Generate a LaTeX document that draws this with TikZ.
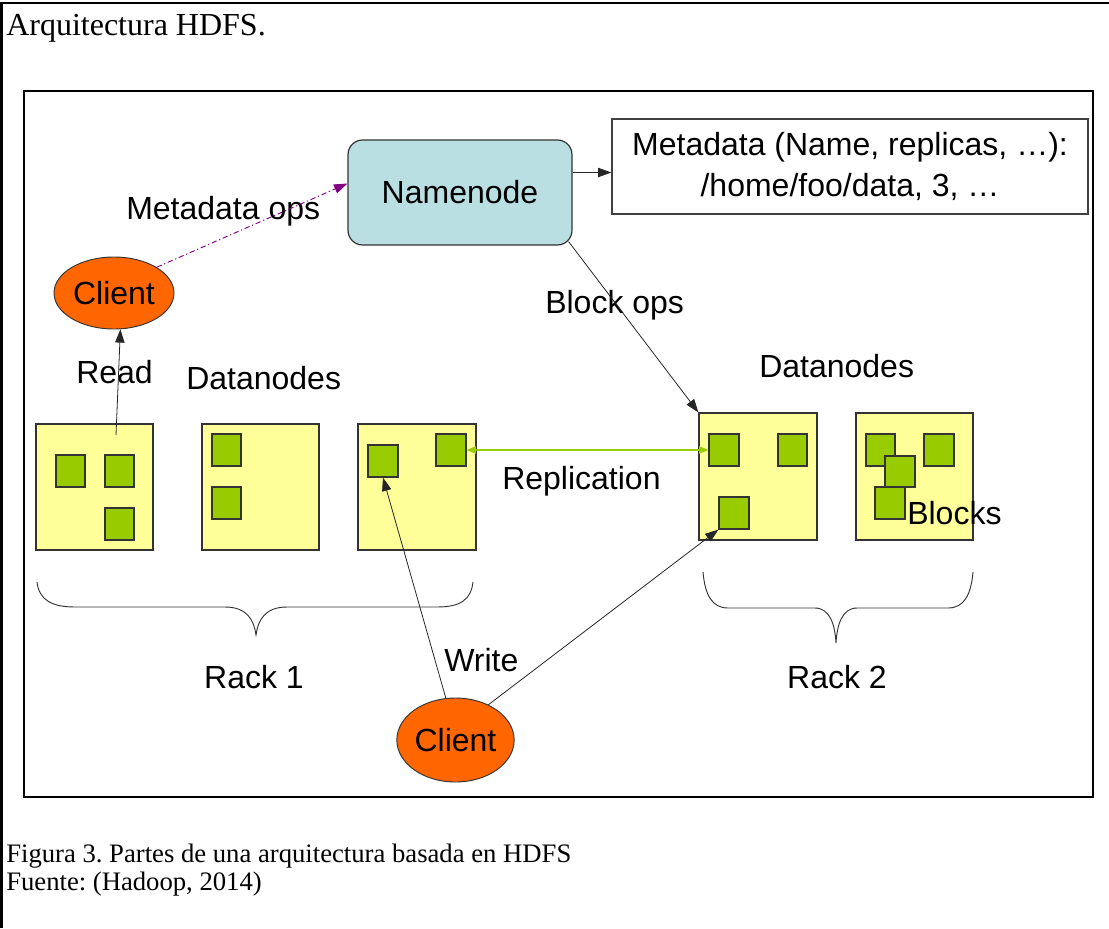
\documentclass[tikz,border=0pt]{standalone}
\usepackage{fontspec}
\setmainfont{Liberation Serif}
\newfontfamily\arialf{Liberation Sans}
\usetikzlibrary{arrows.meta,fit,shapes.geometric}
\frenchspacing
\definecolor{dnyellow}{HTML}{FFFF99}
\definecolor{blkgreen}{HTML}{99CC00}
\definecolor{nnblue}{HTML}{B9DFE3}
\definecolor{clorange}{HTML}{FF6600}
\definecolor{repgreen}{HTML}{99CC00}
\definecolor{mdpurple}{HTML}{800080}
\definecolor{edgegray}{HTML}{333333}
\tikzset{
  lbl/.style={font=\arialf\fontsize{24}{28}\selectfont, inner sep=0pt},
  dnbox/.style={draw=edgegray, fill=dnyellow, line width=0.9pt, inner sep=0pt},
  blk/.style={draw=edgegray, fill=blkgreen, line width=0.9pt, inner sep=0pt},
  client/.style={ellipse, draw=black!80, fill=clorange, line width=0.7pt, inner sep=0pt, font=\arialf\fontsize{24}{28}\selectfont},
  conn/.style={draw=black!85, line width=0.6pt, -{Triangle[length=10pt,width=7pt]}},
  brace/.style={draw=black!80, line width=0.7pt},
  frame/.style={draw=black, line width=2.2pt},
  captxt/.style={anchor=base west, inner sep=0pt, font=\fontsize{20}{24}\selectfont},
}
\begin{document}
\begin{tikzpicture}[x=0.75pt,y=-0.75pt]
\useasboundingbox (0,0) rectangle (1109,928);
% outer table cell lines
\draw[line width=2pt] (1.5,928) -- (1.5,3) -- (1109,3);
\node[anchor=base west, inner sep=0pt, font=\fontsize{24}{28}\selectfont] (title) at (6,36) {Arquitectura HDFS.};
% inner frame
\draw[frame] (24,91) rectangle (1093,797);

% namenode and metadata
\node[draw=black!80, fill=nnblue, rounded corners=11pt, line width=0.9pt, minimum width=168pt, minimum height=78.75pt, font=\arialf\fontsize{24}{28}\selectfont] (nn) at (460,192.5) {Namenode};
\node[draw=black!75, fill=white, line width=0.9pt, minimum width=357pt, minimum height=71.25pt, align=center, inner sep=0pt, font=\arialf\fontsize{24}{30.75}\selectfont] (meta) at (850,166.5) {Metadata (Name, replicas, …):\\/home/foo/data, 3, …};

% clients
\node[client, minimum width=90pt, minimum height=54pt] (c1) at (114,293) {Client};
\node[client, minimum width=88pt, minimum height=63pt] (c2) at (455.5,740) {Client};

% datanodes rack 1
\node[dnbox, fit={(36,424) (153,550)}] (dn1) {};
\node[dnbox, fit={(202,424) (319,550)}] (dn2) {};
\node[dnbox, fit={(358,424) (476,550)}] (dn3) {};
% datanodes rack 2
\node[dnbox, fit={(699,413) (817,540)}] (dn4) {};
\node[dnbox, fit={(856,413) (973,540)}] (dn5) {};

% blocks
\node[blk, fit={(56,455) (85,487)}] (b1a) {};
\node[blk, fit={(105,455) (134,487)}] (b1b) {};
\node[blk, fit={(105,508) (134,540)}] (b1c) {};
\node[blk, fit={(212,434) (241,466)}] (b2a) {};
\node[blk, fit={(212,487) (241,519)}] (b2b) {};
\node[blk, fit={(368,445) (398,477)}] (b3a) {};
\node[blk, fit={(436,434) (466,466)}] (b3b) {};
\node[blk, fit={(709,434) (739,466)}] (b4a) {};
\node[blk, fit={(778,434) (807,466)}] (b4b) {};
\node[blk, fit={(719,497) (749,529)}] (b4c) {};
\node[blk, fit={(866,434) (895,466)}] (b5a) {};
\node[blk, fit={(924,434) (954,466)}] (b5b) {};
\node[blk, fit={(885,456) (915,487)}] (b5c) {};
\node[blk, fit={(875,487) (905,519)}] (b5d) {};

% labels
\node[lbl, anchor=base west] (lmops) at (126,219) {Metadata ops};
\node[lbl, anchor=base west] (lread) at (76,383) {Read};
\node[lbl, anchor=base west] (ldn1) at (186,389) {Datanodes};
\node[lbl, anchor=base west] (lbops) at (545,313) {Block ops};
\node[lbl, anchor=base west] (ldn2) at (759,377) {Datanodes};
\node[lbl, anchor=base west] (lrep) at (502,489) {Replication};
\node[lbl, anchor=base west] (lblocks) at (907,524) {Blocks};
\node[lbl, anchor=base] (lrack1) at (254,688) {Rack 1};
\node[lbl, anchor=base] (lrack2) at (837,688) {Rack 2};
\node[lbl, anchor=base west] (lwrite) at (444,671) {Write};

% connectors
\draw[draw=mdpurple, line width=0.7pt, dash pattern=on 4pt off 2pt on 1pt off 2pt, -{Triangle[length=10pt,width=7pt]}, mdpurple] (c1.north east) -- ([yshift=6.75pt]nn.west);
\coordinate (nmstart) at ([yshift=15pt]nn.east);
\draw[conn] (nmstart) -- (nmstart -| meta.west);
\coordinate (bostart) at ([shift={(-3pt,3pt)}]nn.south east);
\draw[conn] (bostart) -- (dn4.north west);
\coordinate (rdstart) at (116,435);
\draw[conn] (rdstart) -- (c1.-80);
\draw[conn] (c2.103) -- (b3a.south);
\draw[conn] (c2.47) -- (b4c.south west);
\draw[draw=repgreen, line width=0.8pt, {Triangle[length=7pt,width=5.5pt]}-{Triangle[length=7pt,width=5.5pt]}] (b3b.east) -- (b4a.west);

% braces
\draw[brace] (37,582) .. controls (39,600) and (52,607) .. (75,607) -- (225,607) .. controls (247,607) and (254,620) .. (256,635) .. controls (258,620) and (265,607) .. (287,607) -- (437,607) .. controls (460,607) and (471,600) .. (473,582);
\draw[brace] (703,572) .. controls (705,595) and (712,608) .. (728,608) -- (815,608) .. controls (830,608) and (835,625) .. (836,643) .. controls (837,625) and (842,608) .. (857,608) -- (948,608) .. controls (964,608) and (971,595) .. (973,572);

% caption
\node[captxt] (cap1) at (6,862) {Figura 3. Partes de una arquitectura basada en HDFS};
\node[captxt] (cap2) at (6,890) {Fuente: (Hadoop, 2014)};
\end{tikzpicture}
\end{document}
